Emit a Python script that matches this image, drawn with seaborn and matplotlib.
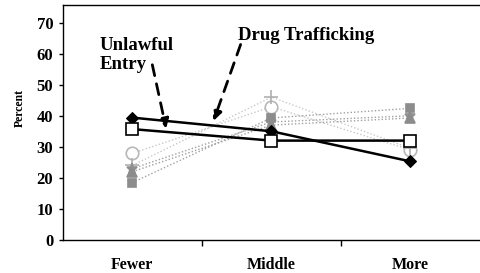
import matplotlib
matplotlib.use("Agg")
import matplotlib.pyplot as plt
import seaborn as sns

# categorias y valores (porcentaje)
categorias = ["Fewer", "Middle", "More"]
unlawful_entry = [35.7, 32.0, 32.0]
drug_trafficking = [39.4, 35.0, 25.3]
gris_circulo = [27.9, 42.9, 29.0]
gris_cruz = [24.0, 46.0, 29.5]
gris_asterisco = [23.0, 38.0, 40.0]
gris_triangulo = [22.0, 37.0, 39.3]
gris_cuadrado = [18.5, 39.3, 42.4]
yticks = [0, 10, 20, 30, 40, 50, 60, 70]

sns.set_style("white")
plt.rcParams["font.family"] = ["Liberation Serif", "DejaVu Serif"]
plt.rcParams["font.weight"] = "bold"
plt.rcParams["text.color"] = "black"
plt.rcParams["xtick.color"] = "black"
plt.rcParams["ytick.color"] = "black"

fig = plt.figure(figsize=(4.8, 2.73), dpi=100)
ax = fig.add_axes([0.131, 0.121, 0.869, 0.861])

x = list(range(len(categorias)))

# series secundarias (punteadas, grises)
estilos = [
    (gris_circulo, "o", "white", "#b8b8b8", 9, "#c8c8c8"),
    (gris_cruz, "+", "#b0b0b0", "#b0b0b0", 10, "#c8c8c8"),
    (gris_asterisco, "*", "#909090", "#909090", 8, "#a0a0a0"),
    (gris_triangulo, "^", "#8c8c8c", "#8c8c8c", 7, "#a0a0a0"),
    (gris_cuadrado, "s", "#8c8c8c", "#8c8c8c", 5.5, "#a0a0a0"),
]
for valores, m, fc, ec, ms, lc in estilos:
    sns.lineplot(x=x, y=valores, ax=ax, sort=False, color=lc, lw=1.0,
                 linestyle=(0, (1, 1.5)), marker=m, markersize=ms,
                 markerfacecolor=fc, markeredgecolor=ec, markeredgewidth=1.2)

# series principales
sns.lineplot(x=x, y=drug_trafficking, ax=ax, sort=False, color="black", lw=1.8,
             marker="D", markersize=6.5, markerfacecolor="black", markeredgecolor="black")
sns.lineplot(x=x, y=unlawful_entry, ax=ax, sort=False, color="black", lw=1.8,
             marker="s", markersize=9, markerfacecolor="white", markeredgecolor="black",
             markeredgewidth=1.2)

ax.set_xlim(-0.5, 2.5)
ax.set_ylim(0, 75.7)
ax.set_yticks(yticks)
ax.set_yticklabels([str(v) for v in yticks], fontsize=12, fontweight="bold")
ax.set_xticks([0.5, 1.5])
ax.set_xticklabels(["", ""])
ax.set_xticks(x, minor=True)
ax.set_xticklabels(categorias, minor=True, fontsize=11.5, fontweight="bold")
ax.tick_params(axis="x", which="major", direction="out", length=4, width=1, color="black", bottom=True)
ax.tick_params(axis="x", which="minor", length=0, pad=12)
ax.tick_params(axis="y", direction="out", length=3, width=1, color="black", left=True, pad=4)

for lado in ["left", "bottom", "top"]:
    ax.spines[lado].set_color("black")
    ax.spines[lado].set_linewidth(1)
ax.spines["right"].set_visible(False)
ax.set_xlabel("")
ax.set_ylabel("")

fig.text(0.042, 0.605, "Percent", rotation=90, fontsize=8.5, fontweight="bold",
         ha="center", va="center")

# anotaciones con flechas punteadas
ax.text(-0.234, 65.5, "Unlawful\nEntry", fontsize=13.5, fontweight="bold",
        ha="left", va="top", linespacing=1.2)
ax.text(0.756, 68.5, "Drug Trafficking", fontsize=13.5, fontweight="bold",
        ha="left", va="top")
ax.annotate("", xy=(0.247, 35.0), xytext=(0.139, 57.3),
            arrowprops=dict(arrowstyle="-|>", linestyle=(0, (4, 3)), lw=2,
                            color="black", mutation_scale=14))
ax.annotate("", xy=(0.577, 37.5), xytext=(0.785, 63.8),
            arrowprops=dict(arrowstyle="-|>", linestyle=(0, (4, 3)), lw=2,
                            color="black", mutation_scale=14))

fig.savefig("out.png", dpi=100)
